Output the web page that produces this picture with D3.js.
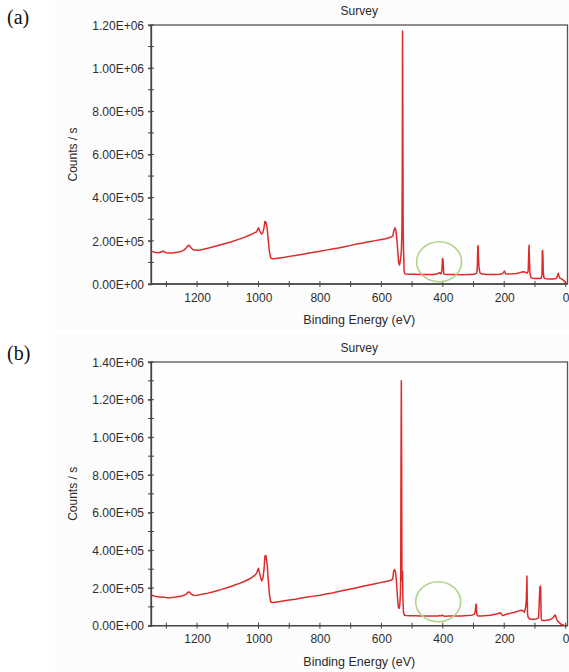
<!DOCTYPE html>
<html><head><meta charset="utf-8">
<script src="https://cdn.jsdelivr.net/npm/d3@7"></script>
<style>
html,body{margin:0;padding:0;background:#fff;}
svg{display:block;}
text{font-family:"Liberation Sans",Arial,sans-serif;}
</style></head>
<body>
<svg id="chart" width="569" height="672"></svg>
<script>
// ---- data ----
const panelLabels = ["(a)", "(b)"];
const chartTitle = "Survey";
const xAxisTitle = "Binding Energy (eV)";
const yAxisTitle = "Counts / s";
const xTickValues = [1300, 1200, 1100, 1000, 900, 800, 700, 600, 500, 400, 300, 200, 100, 0];
const xLabelValues = [1200, 1000, 800, 600, 400, 200, 0];
const yMaxA = 1.2e6;
const yMaxB = 1.4e6;

const energyA = [1350,1344,1338,1332,1326,1320,1314,1310,1306,1300,1290,1280,1270,1260,1250,1242,1235,1230,1227,1224,1220,1214,1208,1200,1190,1180,1165,1150,1135,1120,1105,1090,1075,1060,1045,1030,1020,1012,1006,1003,1000,996,990,986,982,979,976,972,968,964,960,955,945,930,915,900,880,860,840,820,800,780,760,740,720,700,680,660,640,620,600,585,575,568,563,559,556,553,550,547,544,541,538,535,533,532,531,530,529,528,527,526,524,520,505,490,470,450,430,420,414,410,406,403,401,399,397,394,380,360,340,320,305,295,290,288,286,285,284,282,279,272,255,235,215,206,202,199,196,188,175,160,150,142,136,130,125,122,120,119,118,116,113,108,100,92,85,80,77,76,75,74,73,71,68,62,52,42,34,29,26,24,22,19,14,8,3,0,-3,-6];
const countsA = [152000,150000,147000,146000,145000,147000,149000,153000,148000,145000,144000,144000,146000,148000,152000,158000,168000,177000,180000,176000,168000,160000,157000,156000,158000,161000,166000,171000,177000,183000,189000,195000,202000,209000,217000,226000,232000,238000,242000,252000,260000,245000,231000,238000,262000,290000,287000,262000,200000,145000,120000,117000,118000,121000,124000,128000,132000,137000,142000,147000,152000,157000,162000,167000,173000,179000,185000,190000,196000,201000,206000,210000,214000,218000,222000,248000,260000,250000,215000,160000,100000,88000,110000,150000,240000,500000,1172000,700000,260000,172000,120000,60000,48000,46000,45000,45000,44500,44000,44500,46000,50000,52000,47000,62000,118000,110000,48000,45000,44000,43500,43000,43500,44500,46000,50000,62000,175000,178000,130000,75000,52000,46000,44000,44000,45000,47000,55000,60000,48000,46000,47000,49000,52000,56000,57000,54000,50000,60000,150000,180000,120000,45000,30000,27000,26000,25000,26000,27000,40000,150000,155000,130000,60000,30000,25000,24000,23000,23000,24000,28000,42000,50000,38000,27000,24000,18000,10000,5000,3000];

const energyB = [1350,1344,1338,1332,1326,1320,1314,1310,1306,1300,1290,1280,1270,1260,1250,1242,1235,1230,1227,1224,1220,1214,1208,1200,1190,1180,1165,1150,1135,1120,1105,1090,1075,1060,1045,1030,1020,1012,1006,1003,1000,996,990,986,982,979,976,972,968,964,960,955,945,930,915,900,880,860,840,820,800,780,760,740,720,700,680,660,640,620,600,585,575,568,563,560,557,554,551,548,545,542,540,538,537,536,535,534,533,532,531,530,528,525,520,505,490,470,450,430,420,414,410,406,403,401,399,397,394,380,360,340,320,305,298,295,292,291,290,289,287,285,278,265,245,225,212,208,205,202,198,190,175,160,150,144,138,134,130,128,126,125,124,122,120,117,112,104,95,88,84,82,81,80,79,78,76,73,68,58,48,40,35,32,30,28,26,22,16,9,3,0,-3,-6];
const countsB = [163000,160000,157000,155000,153000,152000,151000,153000,151000,149000,148000,150000,152000,155000,158000,162000,168000,176000,180000,177000,169000,163000,161000,162000,165000,168000,173000,179000,186000,193000,200000,208000,217000,226000,236000,248000,258000,268000,278000,295000,305000,275000,238000,250000,300000,370000,372000,330000,240000,160000,126000,123000,124000,128000,132000,136000,141000,147000,152000,157000,162000,168000,174000,181000,188000,195000,202000,209000,216000,223000,230000,235000,239000,243000,248000,290000,298000,285000,240000,160000,100000,92000,110000,170000,250000,890000,1300000,890000,240000,285000,287000,150000,70000,56000,54000,53000,52500,52000,52000,51500,51000,52000,54000,52000,55000,56000,53000,51000,50500,51000,51500,52000,53500,56000,60000,70000,112000,115000,90000,60000,53000,52000,52000,53000,55000,62000,69000,58000,54000,55000,58000,62000,68000,74000,80000,82000,78000,72000,100000,140000,264000,136000,60000,45000,40000,36000,34000,34000,36000,42000,205000,210000,180000,60000,35000,30000,28000,27000,28000,30000,34000,45000,57000,50000,38000,30000,25000,18000,9000,4000,2000];

// annotation circles (centre in data units)
const circleA = {energy: 412, counts: 103000};
const circleB = {energy: 415, counts: 127000};

// ---- layout ----
const svg = d3.select("#chart");
const panels = [
  {label: panelLabels[0], energy: energyA, counts: countsA, yMax: yMaxA, top: 25, bottom: 284, circle: circleA, bgTop: 0, bgBot: 330, labelY: 24},
  {label: panelLabels[1], energy: energyB, counts: countsB, yMax: yMaxB, top: 362, bottom: 625.7, circle: circleB, bgTop: 334, bgBot: 672, labelY: 360}
];
const left = 151, right = 567.5;
const x = d3.scaleLinear().domain([1350, -6]).range([left, right]);

function sci(v) {
  if (v === 0) return "0.00E+00";
  const e = Math.floor(Math.log10(Math.abs(v)) + 1e-9);
  const m = v / Math.pow(10, e);
  return m.toFixed(2) + "E" + (e >= 0 ? "+" : "-") + String(Math.abs(e)).padStart(2, "0");
}

panels.forEach(p => {
  const y = d3.scaleLinear().domain([0, p.yMax]).range([p.bottom, p.top]);
  const g = svg.append("g");

  g.append("rect").attr("x", 55).attr("y", p.bgTop).attr("width", 569 - 55).attr("height", p.bgBot - p.bgTop)
    .attr("fill", "#fcfcfc");

  g.append("text").attr("x", 7).attr("y", p.labelY)
    .style("font-family", "'Liberation Serif','Times New Roman',serif").style("font-size", "20px")
    .attr("fill", "#111").text(p.label);

  // frame
  g.append("rect").attr("x", left).attr("y", p.top).attr("width", right - left).attr("height", p.bottom - p.top)
    .attr("fill", "#fefefe").attr("stroke", "#555").attr("stroke-width", 1.3);

  // title
  g.append("text").attr("x", (left + right) / 2).attr("y", p.top - 10).attr("text-anchor", "middle")
    .style("font-size", "12px").attr("fill", "#2a2a2a").text(chartTitle);

  // y axis
  const yMajor = d3.range(0, p.yMax + 1, 200000);
  const yMinor = d3.range(0, p.yMax + 1, 100000);
  const yAxis = d3.axisLeft(y).tickValues(yMajor).tickFormat(sci).tickSize(3).tickPadding(4);
  const ya = g.append("g").attr("transform", `translate(${left},0)`).call(yAxis);
  ya.select(".domain").attr("stroke", "#444").attr("stroke-width", 1.3);
  ya.selectAll(".tick text").style("font-size", "12px").attr("fill", "#2e2e2e").attr("dy", "0.35em");
  ya.selectAll(".tick line").attr("stroke", "#444");
  g.append("g").selectAll("line").data(yMinor).join("line")
    .attr("x1", left - 3).attr("x2", left + 3).attr("y1", d => y(d)).attr("y2", d => y(d))
    .attr("stroke", "#444").attr("stroke-width", 1);

  // x axis
  const xAxis = d3.axisBottom(x).tickValues(xLabelValues).tickFormat(d3.format("d")).tickSize(3).tickPadding(6);
  const xa = g.append("g").attr("transform", `translate(0,${p.bottom})`).call(xAxis);
  xa.select(".domain").remove();
  xa.selectAll(".tick line").remove();
  xa.selectAll(".tick text").style("font-size", "12px").attr("fill", "#2e2e2e");
  g.append("line").attr("x1", left).attr("x2", right).attr("y1", p.bottom).attr("y2", p.bottom)
    .attr("stroke", "#444").attr("stroke-width", 1.3);
  g.append("g").selectAll("line").data(xTickValues).join("line")
    .attr("x1", d => x(d)).attr("x2", d => x(d)).attr("y1", p.bottom - 3).attr("y2", p.bottom + 3)
    .attr("stroke", "#444").attr("stroke-width", 1);

  // axis titles
  g.append("text").attr("x", (left + right) / 2).attr("y", p.bottom + 40).attr("text-anchor", "middle")
    .style("font-size", "12.5px").attr("fill", "#2a2a2a").text(xAxisTitle);
  g.append("text").attr("transform", `translate(77,${(p.top + p.bottom) / 2}) rotate(-90)`)
    .attr("text-anchor", "middle").style("font-size", "12px").attr("fill", "#2a2a2a").text(yAxisTitle);

  // spectrum
  const data = p.energy.map((e, i) => ({e, c: p.counts[i]}));
  g.append("path").datum(data)
    .attr("d", d3.line().x(d => x(d.e)).y(d => y(d.c)))
    .attr("fill", "none").attr("stroke", "#dd2a2a").attr("stroke-width", 1.5).attr("stroke-linejoin", "round");

  // annotation ellipse
  g.append("ellipse").attr("cx", x(p.circle.energy)).attr("cy", y(p.circle.counts))
    .attr("rx", 22.5).attr("ry", 20)
    .attr("fill", "none").attr("stroke", "#b2d28a").attr("stroke-width", 1.6);
});
</script>
</body></html>
